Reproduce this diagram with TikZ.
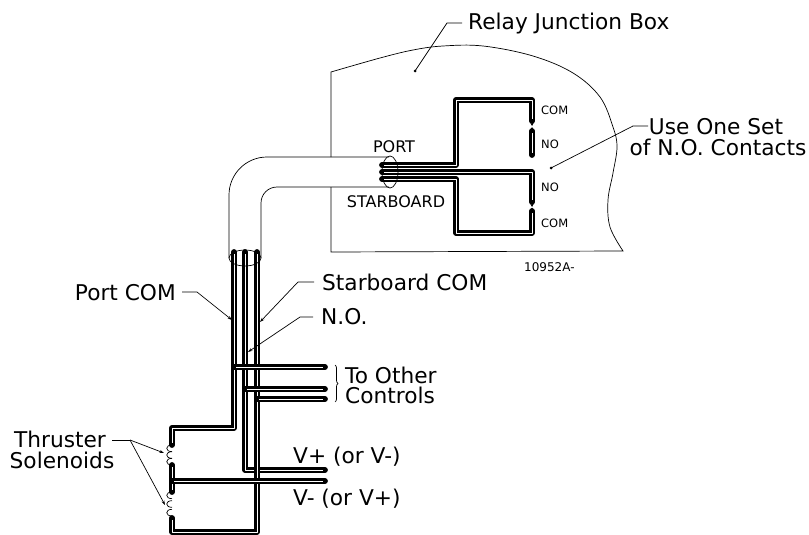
\documentclass[tikz,border=0pt]{standalone}
\usepackage{fontspec}
\setmainfont{DejaVu Sans}
\usetikzlibrary{arrows.meta,decorations.pathreplacing}
\begin{document}
\begin{tikzpicture}[x=1pt,y=-1pt,
 wire/.style={draw=black,line width=5.8pt,line cap=round,line join=round,
   postaction={draw=white,line width=0.5pt,line cap=butt,shorten <=2pt,shorten >=2pt}},
 thinl/.style={draw=black,line width=0.7pt},
 lead/.style={draw=black,line width=0.7pt},
 big/.style={font=\fontsize{21.7}{20}\selectfont,inner sep=0pt},
 mid/.style={font=\fontsize{16}{18}\selectfont,inner sep=0pt},
 small/.style={font=\fontsize{11.5}{13}\selectfont,inner sep=0pt},
 tip/.style={-{Stealth[length=4.5pt,width=3pt]}},
 ctip/.style={draw=black,line width=0.6pt,-{Stealth[length=3pt,width=3pt]}},
]
\useasboundingbox (0,0) rectangle (809,535);

% junction box outline
\draw[thinl] (331,157) -- (331,72) -- plot[smooth,tension=0.6] coordinates {(331,72) (380,58) (413,50) (443,46) (483,46) (533,56) (573,73) (600,97) (613,127) (617,147) (613,173) (608,200) (610,227) (623,251)} -- (331,252) -- (331,187);

% wires inside box
\draw[wire] (382,165) -- (456,165) -- (456,100) -- (532,100) -- (532,121);
\draw[wire] (382,172) -- (532,172) -- (532,202);
\draw[wire] (382,179) -- (456,179) -- (456,233) -- (532,233) -- (532,211);
\draw[wire] (532,131) -- (532,155);
\coordinate (c1) at (532,119); \coordinate (c1e) at (532,126);
\coordinate (c2) at (532,133); \coordinate (c2e) at (532,127);
\coordinate (c3) at (532,200); \coordinate (c3e) at (532,207);
\coordinate (c4) at (532,213); \coordinate (c4e) at (532,207.5);
\draw[ctip] (c1) -- (c1e);
\draw[ctip] (c2) -- (c2e);
\draw[ctip] (c3) -- (c3e);
\draw[ctip] (c4) -- (c4e);

% cable
\draw[thinl,rounded corners=38pt] (229,258) -- (229,157) -- (389,157);
\draw[thinl,rounded corners=16pt] (261,258) -- (261,187) -- (389,187);

% vertical bundle and circuit
\draw[wire] (234,252) -- (234,428) -- (172,428) -- (172,445);
\draw[wire] (245,252) -- (245,470) -- (325,470);
\draw[wire] (257,252) -- (257,532) -- (172,532) -- (172,518);
\draw[wire] (172,465) -- (172,492);
\draw[wire] (172,481) -- (325,481);
\draw[wire] (234,367) -- (325,367);
\draw[wire] (245,389) -- (325,389);
\draw[wire] (257,399) -- (325,399);

% cable ends
\draw[thinl] (245,258) ellipse [x radius=16, y radius=8];
\draw[thinl] (390,172) ellipse [x radius=8, y radius=16];

% solenoid coils
\foreach \y in {445,451.67,458.33,492,500.67,509.33} {
  \draw[thinl] (172,\y) .. controls (165,\y) and (165,\y+6.67) .. (172,\y+6.67);
}

% brace
\draw[thinl,decorate,decoration={brace,amplitude=3pt}] (335,365) -- (335,402);

% labels
\node[big,anchor=base west] (rjb) at (468,30) {Relay Junction Box};
\node[big,anchor=base] (use1) at (716,135) {Use One Set};
\node[big,anchor=base] (use2) at (718,155) {of N.O. Contacts};
\node[big,anchor=base east] (pcom) at (176,300) {Port COM};
\node[big,anchor=base west] (scom) at (322,290) {Starboard COM};
\node[big,anchor=base west] (nolab) at (321,324) {N.O.};
\node[big,anchor=base west] (oth1) at (345,383) {To Other};
\node[big,anchor=base west] (oth2) at (345,403) {Controls};
\node[big,anchor=base] (thr1) at (60,447) {Thruster};
\node[big,anchor=base] (thr2) at (62,468) {Solenoids};
\node[big,anchor=base west] (vp) at (293,463) {V+ (or V-)};
\node[big,anchor=base west] (vm) at (293,505) {V- (or V+)};
\node[mid,anchor=base] (port) at (394,152) {PORT};
\node[mid,anchor=base] (stb) at (396,207) {STARBOARD};
\node[small,anchor=base west] (com1) at (541,114) {COM};
\node[small,anchor=base west] (no1) at (541,148) {NO};
\node[small,anchor=base west] (no2) at (541,191) {NO};
\node[small,anchor=base west] (com2) at (541,227) {COM};
\node[small,anchor=base west,font=\fontsize{12}{14}\selectfont] (code) at (524,271) {10952A-};

% leaders
\coordinate (rjbd) at (415,71);
\draw[lead] (462,23) -- (447,23) -- (rjbd);
\fill (rjbd) circle (1.5);
\coordinate (used) at (551,168);
\draw[lead] (648,126) -- (633,126) -- (used);
\fill (used) circle (1.5);
\coordinate (pcomt) at (232,320);
\draw[lead,tip] (182,292) -- (197,292) -- (pcomt);
\coordinate (scomt) at (260,322);
\draw[lead,tip] (314,282) -- (298,282) -- (scomt);
\coordinate (not) at (248,352);
\draw[lead,tip] (313,317) -- (300,317) -- (not);
\coordinate (thrj) at (130,440);
\draw[lead] (112,440) -- (thrj);
\draw[lead,tip] (thrj) -- (164,453);
\draw[lead,tip] (thrj) -- (165,505);
\end{tikzpicture}
\end{document}
